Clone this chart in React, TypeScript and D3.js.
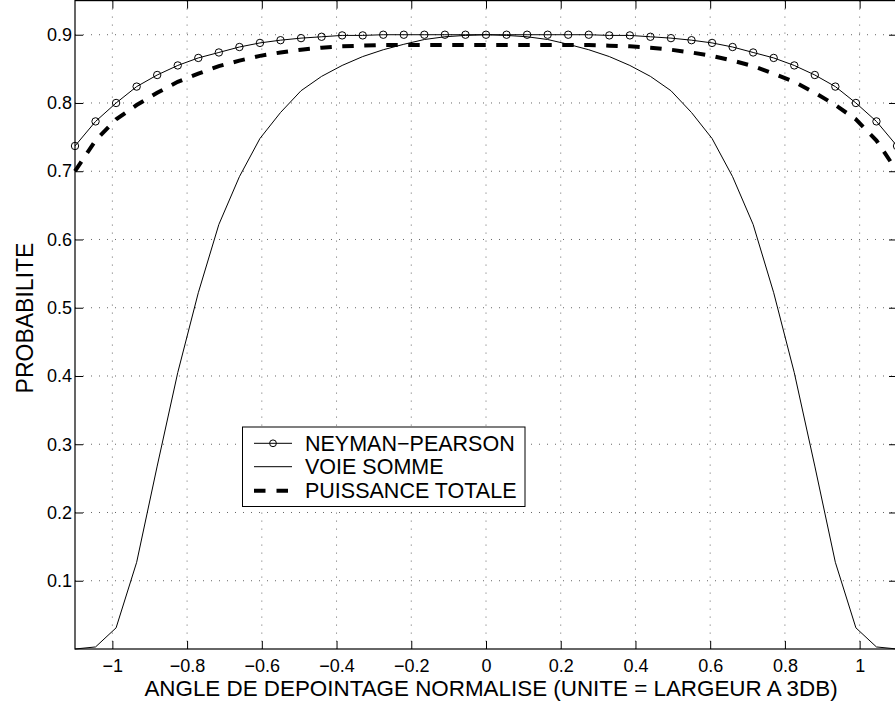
import React, { useEffect, useRef } from "react";
import * as d3 from "d3";

// normalised depointing angle (sampling grid of the three curves)
const angles = [
  -1.1, -1.045, -0.99, -0.935, -0.88, -0.825, -0.77, -0.715, -0.66, -0.605,
  -0.55, -0.495, -0.44, -0.385, -0.33, -0.275, -0.22, -0.165, -0.11, -0.055,
  0, 0.055, 0.11, 0.165, 0.22, 0.275, 0.33, 0.385, 0.44, 0.495, 0.55, 0.605,
  0.66, 0.715, 0.77, 0.825, 0.88, 0.935, 0.99, 1.045, 1.1,
];

const neymanPearson = [
  0.737, 0.773, 0.8, 0.824, 0.841, 0.855, 0.866, 0.874, 0.882, 0.888, 0.892,
  0.895, 0.897, 0.899, 0.899, 0.9, 0.9, 0.9, 0.9, 0.9, 0.9, 0.9, 0.9, 0.9, 0.9,
  0.9, 0.899, 0.899, 0.897, 0.895, 0.892, 0.888, 0.882, 0.874, 0.866, 0.855,
  0.841, 0.824, 0.8, 0.773, 0.737,
];

const voieSomme = [
  0.0, 0.003, 0.031, 0.127, 0.268, 0.405, 0.522, 0.622, 0.692, 0.748, 0.786,
  0.818, 0.839, 0.855, 0.868, 0.878, 0.886, 0.893, 0.897, 0.899, 0.9, 0.899,
  0.897, 0.893, 0.886, 0.878, 0.868, 0.855, 0.839, 0.818, 0.786, 0.748, 0.692,
  0.622, 0.522, 0.405, 0.268, 0.127, 0.031, 0.003, 0.0,
];

const puissanceTotale = [
  0.7, 0.745, 0.776, 0.797, 0.815, 0.831, 0.843, 0.854, 0.862, 0.869, 0.874,
  0.878, 0.881, 0.883, 0.884, 0.885, 0.885, 0.885, 0.885, 0.885, 0.885, 0.885,
  0.885, 0.885, 0.885, 0.885, 0.884, 0.883, 0.881, 0.878, 0.874, 0.869, 0.862,
  0.854, 0.843, 0.831, 0.815, 0.797, 0.776, 0.745, 0.7,
];

const xTicks = [-1, -0.8, -0.6, -0.4, -0.2, 0, 0.2, 0.4, 0.6, 0.8, 1];
const yTicks = [0.1, 0.2, 0.3, 0.4, 0.5, 0.6, 0.7, 0.8, 0.9];
const legendLabels = ["NEYMAN\u2212PEARSON", "VOIE SOMME", "PUISSANCE TOTALE"];

const FONT = "'Liberation Sans', Arial, Helvetica, sans-serif";

function App() {
  const ref = useRef<SVGSVGElement>(null);
  const width = 895;
  const height = 706;
  const left = 75;
  const right = 897;
  const top = 0.6;
  const bottom = 649;

  useEffect(() => {
    const svg = d3.select(ref.current);
    svg.selectAll("*").remove();

    const x = d3.scaleLinear().domain([-1.1, 1.1]).range([left, right]);
    const y = d3.scaleLinear().domain([0, 0.95]).range([bottom, top]);
    const fmt = d3.format("~g");

    // dotted grid
    const grid = svg.append("g");
    grid
      .selectAll("line.gx")
      .data(xTicks)
      .enter()
      .append("line")
      .attr("x1", (d) => x(d))
      .attr("x2", (d) => x(d))
      .attr("y1", top)
      .attr("y2", bottom)
      .attr("stroke", "#666")
      .attr("stroke-width", 1)
      .attr("stroke-dasharray", "1,7");
    grid
      .selectAll("line.gy")
      .data(yTicks)
      .enter()
      .append("line")
      .attr("x1", left)
      .attr("x2", right)
      .attr("y1", (d) => y(d))
      .attr("y2", (d) => y(d))
      .attr("stroke", "#666")
      .attr("stroke-width", 1)
      .attr("stroke-dasharray", "1,7");

    // axes (inward ticks on all four sides)
    const axisStyle = (g: any) => {
      g.select(".domain").remove();
      g.selectAll("line").attr("stroke", "#000").attr("stroke-width", 1);
      g.selectAll("text")
        .attr("fill", "#000")
        .attr("font-family", FONT)
        .attr("font-size", 18);
    };

    svg
      .append("g")
      .attr("transform", `translate(0,${bottom})`)
      .call(
        d3.axisBottom(x).tickValues(xTicks).tickFormat(fmt).tickSizeInner(-8).tickSizeOuter(0).tickPadding(10)
      )
      .call(axisStyle);
    svg
      .append("g")
      .attr("transform", `translate(0,${top})`)
      .call(d3.axisTop(x).tickValues(xTicks).tickFormat(() => "").tickSizeInner(-8).tickSizeOuter(0))
      .call(axisStyle);
    svg
      .append("g")
      .attr("transform", `translate(${left},0)`)
      .call(
        d3.axisLeft(y).tickValues(yTicks).tickFormat(fmt).tickSizeInner(-8).tickSizeOuter(0).tickPadding(3)
      )
      .call(axisStyle);
    svg
      .append("g")
      .attr("transform", `translate(${right},0)`)
      .call(d3.axisRight(y).tickValues(yTicks).tickFormat(() => "").tickSizeInner(-8).tickSizeOuter(0))
      .call(axisStyle);

    // frame
    svg
      .append("rect")
      .attr("x", left)
      .attr("y", top)
      .attr("width", right - left)
      .attr("height", bottom - top)
      .attr("fill", "none")
      .attr("stroke", "#000")
      .attr("stroke-width", 1.2);

    const line = (vals: number[]) =>
      d3
        .line<number>()
        .x((_, i) => x(angles[i]))
        .y((d) => y(d))(vals);

    svg
      .append("path")
      .attr("d", line(voieSomme))
      .attr("fill", "none")
      .attr("stroke", "#000")
      .attr("stroke-width", 1);

    svg
      .append("path")
      .attr("d", line(puissanceTotale))
      .attr("fill", "none")
      .attr("stroke", "#000")
      .attr("stroke-width", 4)
      .attr("stroke-dasharray", "11.5,10.5");

    svg
      .append("path")
      .attr("d", line(neymanPearson))
      .attr("fill", "none")
      .attr("stroke", "#000")
      .attr("stroke-width", 1);

    svg
      .append("g")
      .selectAll("circle")
      .data(neymanPearson)
      .enter()
      .append("circle")
      .attr("cx", (_, i) => x(angles[i]))
      .attr("cy", (d) => y(d))
      .attr("r", 3.7)
      .attr("fill", "none")
      .attr("stroke", "#000")
      .attr("stroke-width", 1);

    // axis titles
    svg
      .append("text")
      .attr("x", 491)
      .attr("y", 696)
      .attr("text-anchor", "middle")
      .attr("font-family", FONT)
      .attr("font-size", 22.4)
      .text("ANGLE DE DEPOINTAGE NORMALISE (UNITE = LARGEUR A 3DB)");

    svg
      .append("text")
      .attr("transform", "translate(33,318) rotate(-90)")
      .attr("text-anchor", "middle")
      .attr("font-family", FONT)
      .attr("font-size", 23)
      .text("PROBABILITE");

    // legend
    const lg = svg.append("g");
    lg.append("rect")
      .attr("x", 242.5)
      .attr("y", 427)
      .attr("width", 282.5)
      .attr("height", 79.5)
      .attr("fill", "#fff")
      .attr("stroke", "#000")
      .attr("stroke-width", 1);
    const rowY = [443.3, 466.7, 490.7];
    legendLabels.forEach((label, i) => {
      const ly = rowY[i];
      const l = lg
        .append("line")
        .attr("x1", 254)
        .attr("x2", 292)
        .attr("y1", ly)
        .attr("y2", ly)
        .attr("stroke", "#000")
        .attr("stroke-width", i === 2 ? 4 : 1);
      if (i === 2) l.attr("stroke-dasharray", "11.5,11");
      if (i === 0) {
        lg.append("circle")
          .attr("cx", 273)
          .attr("cy", ly)
          .attr("r", 3.4)
          .attr("fill", "none")
          .attr("stroke", "#000")
          .attr("stroke-width", 1);
      }
      lg.append("text")
        .attr("x", 305)
        .attr("y", ly)
        .attr("dy", "0.36em")
        .attr("font-family", FONT)
        .attr("font-size", 21.5)
        .text(label);
    });
  }, []);

  return (
    <svg
      ref={ref}
      width={width}
      height={height}
      style={{ position: "absolute", left: 0, top: 0, background: "#fff" }}
    />
  );
}

export default App;
